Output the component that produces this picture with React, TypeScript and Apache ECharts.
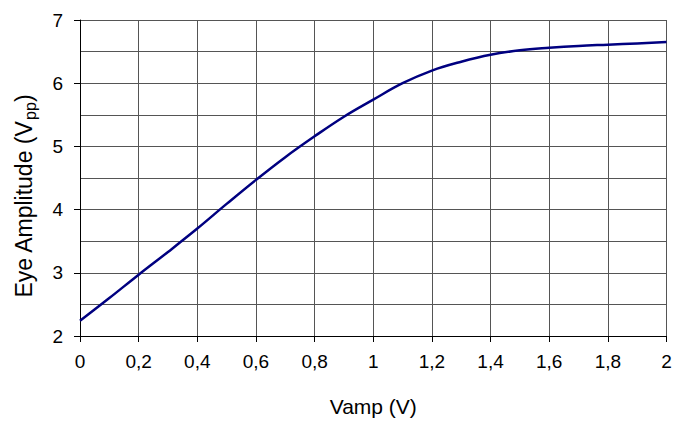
import React, { useEffect, useRef } from "react";
import * as echarts from "echarts";

const vampValues = [0, 0.1, 0.2, 0.3, 0.4, 0.5, 0.6, 0.7, 0.8, 0.9, 1.0, 1.1, 1.2, 1.3, 1.4, 1.5, 1.6, 1.7, 1.8, 1.9, 2.0];
const eyeAmplitude = [2.24, 2.6, 2.97, 3.33, 3.7, 4.09, 4.47, 4.83, 5.16, 5.47, 5.74, 6.0, 6.2, 6.34, 6.45, 6.52, 6.56, 6.59, 6.61, 6.63, 6.65];
const xTitle = "Vamp (V)";
const yTitleMain = "Eye Amplitude (V";
const yTitleSub = "pp";
const yTitleEnd = ")";

const FONT = "'Liberation Sans', Arial, sans-serif";

function measure(text: string, size: number): number {
  const c = document.createElement("canvas").getContext("2d");
  if (!c) return text.length * size * 0.55;
  c.font = `${size}px 'Liberation Sans', Arial, sans-serif`;
  return c.measureText(text).width;
}

export default function App() {
  const ref = useRef<HTMLDivElement>(null);
  useEffect(() => {
    document.body.style.margin = "0";
    if (!ref.current) return;
    const chart = echarts.init(ref.current, undefined, { renderer: "svg" });

    const mainSize = 23;
    const subSize = 16;
    const w1 = measure(yTitleMain, mainSize);
    const w2 = measure(yTitleSub, subSize);
    const w3 = measure(yTitleEnd, mainSize);
    const total = w1 + w2 + w3;
    const centerY = 196;

    chart.setOption({
      animation: false,
      grid: { left: 80, right: 19.5, top: 20, bottom: 85 },
      xAxis: {
        type: "value",
        min: 0,
        max: 2,
        interval: 0.2,
        name: xTitle,
        nameLocation: "middle",
        nameGap: 60,
        nameTextStyle: { fontFamily: FONT, fontSize: 21, color: "#000" },
        axisLine: { show: true, lineStyle: { color: "#000", width: 1 } },
        axisTick: { show: true, length: 6, lineStyle: { color: "#000" } },
        axisLabel: {
          margin: 16,
          fontFamily: FONT,
          fontSize: 19,
          color: "#000",
          formatter: (v: number) => String(Math.round(v * 10) / 10).replace(".", ","),
        },
        splitLine: { show: true, lineStyle: { color: "#555", width: 1 } },
      },
      yAxis: {
        type: "value",
        min: 2,
        max: 7,
        interval: 1,
        axisLine: { show: true, lineStyle: { color: "#000", width: 1 } },
        axisTick: { show: true, length: 6, lineStyle: { color: "#000" } },
        axisLabel: { margin: 17, fontFamily: FONT, fontSize: 19, color: "#000" },
        splitLine: { show: true, lineStyle: { color: "#555", width: 1 } },
        minorTick: { show: false, splitNumber: 2 },
        minorSplitLine: { show: true, lineStyle: { color: "#555", width: 1 } },
      },
      graphic: [
        {
          type: "group",
          x: 24,
          y: centerY + total / 2,
          rotation: Math.PI / 2,
          children: [
            {
              type: "text",
              x: 0,
              y: 0,
              style: { text: yTitleMain, fontFamily: FONT, fontSize: mainSize, fill: "#000", verticalAlign: "middle", align: "left" },
            },
            {
              type: "text",
              x: w1,
              y: 6,
              style: { text: yTitleSub, fontFamily: FONT, fontSize: subSize, fill: "#000", verticalAlign: "middle", align: "left" },
            },
            {
              type: "text",
              x: w1 + w2,
              y: 0,
              style: { text: yTitleEnd, fontFamily: FONT, fontSize: mainSize, fill: "#000", verticalAlign: "middle", align: "left" },
            },
          ],
        },
      ],
      series: [
        {
          type: "line",
          data: vampValues.map((x, i) => [x, eyeAmplitude[i]]),
          smooth: 0.4,
          showSymbol: false,
          symbol: "none",
          lineStyle: { color: "#000080", width: 2.5 },
        },
      ],
    });
    return () => chart.dispose();
  }, []);
  return <div ref={ref} style={{ width: 686, height: 422 }} />;
}
